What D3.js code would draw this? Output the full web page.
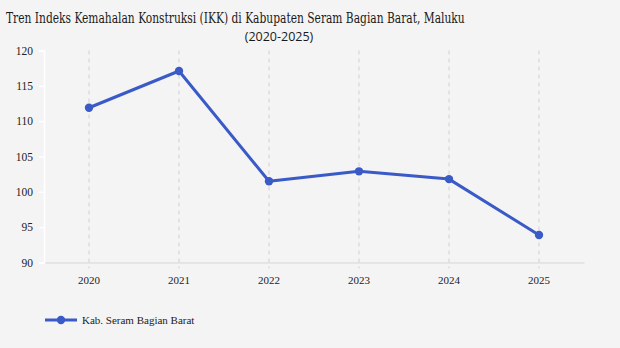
<!DOCTYPE html>
<html><head><meta charset="utf-8">
<script src="https://cdn.jsdelivr.net/npm/d3@7"></script>
<style>body{margin:0;background:#f4f4f4;}svg{display:block;}</style>
</head><body>
<svg id="c" width="620" height="348"></svg>
<script>
const years = ["2020","2021","2022","2023","2024","2025"];
const ikk = [111.9, 117.1, 101.5, 102.9, 101.8, 93.9];
const yTicks = [90,95,100,105,110,115,120];
const seriesName = "Kab. Seram Bagian Barat";
const title = "Tren Indeks Kemahalan Konstruksi (IKK) di Kabupaten Seram Bagian Barat, Maluku";
const subtitle = "(2020-2025)";

const svg = d3.select("#c");
svg.append("rect").attr("width",620).attr("height",348).attr("fill","#f4f4f4");
const color = "#3a5bc7";
const serif = "'Liberation Serif', 'DejaVu Serif', serif";
const sans = "'Open Sans', sans-serif";
const slab = "'DejaVu Serif Condensed', 'DejaVu Serif', serif";

const x = d3.scaleBand().domain(years).range([44,584]);
const y = d3.scaleLinear().domain([90,120]).range([262.5,50.5]);

const t = svg.append("text").attr("x",6).attr("y",23).attr("font-family",slab).attr("font-size",15.5).attr("fill","#1a1a1a").text(title);
// fit title to reference width via horizontal scale
const w = t.node().getComputedTextLength();
t.attr("transform",`translate(6,0) scale(${459/w},1) translate(-6,0)`);
svg.append("text").attr("x",279).attr("y",41).attr("text-anchor","middle").attr("font-family",sans).attr("font-size",12.5).attr("fill","#1a1a1a").text(subtitle);

// vertical dashed grid
svg.append("g").selectAll("line").data(years).join("line")
  .attr("x1",d=>x(d)+x.bandwidth()/2).attr("x2",d=>x(d)+x.bandwidth()/2)
  .attr("y1",y(120)).attr("y2",y(90)+6)
  .attr("stroke","#dcdcdc").attr("stroke-width",1.5).attr("stroke-dasharray","4,4");

// x axis
const xa = svg.append("g").attr("transform",`translate(0,${y(90)})`).call(d3.axisBottom(x).tickSize(0).tickPadding(14));
xa.select(".domain").attr("stroke","#e0e0e0").attr("stroke-width",1.5);
xa.selectAll("text").attr("font-family",serif).attr("font-size",11).attr("fill","#222");

// y axis
const ya = svg.append("g").attr("transform","translate(44,0)").call(d3.axisLeft(y).tickValues(yTicks).tickSize(5).tickPadding(6));
ya.select(".domain").attr("stroke","#ffffff").attr("stroke-width",1.5);
ya.selectAll(".tick line").attr("stroke","#ffffff").attr("stroke-width",1.5);
ya.selectAll("text").attr("font-family",serif).attr("font-size",11.5).attr("fill","#222");

const pts = years.map((d,i)=>[x(d)+x.bandwidth()/2, y(ikk[i])]);
svg.append("path").attr("d",d3.line()(pts)).attr("fill","none").attr("stroke",color).attr("stroke-width",3).attr("stroke-linejoin","round");
svg.append("g").selectAll("circle").data(pts).join("circle").attr("cx",d=>d[0]).attr("cy",d=>d[1]).attr("r",4.2).attr("fill",color);

// legend
const lg = svg.append("g").attr("transform","translate(45,320)");
lg.append("line").attr("x1",0).attr("x2",32).attr("stroke",color).attr("stroke-width",3);
lg.append("circle").attr("cx",16).attr("r",4.2).attr("fill",color);
lg.append("text").attr("x",37).attr("y",4).attr("font-family",serif).attr("font-size",11).attr("fill","#222").text(seriesName);
</script>
</body></html>
